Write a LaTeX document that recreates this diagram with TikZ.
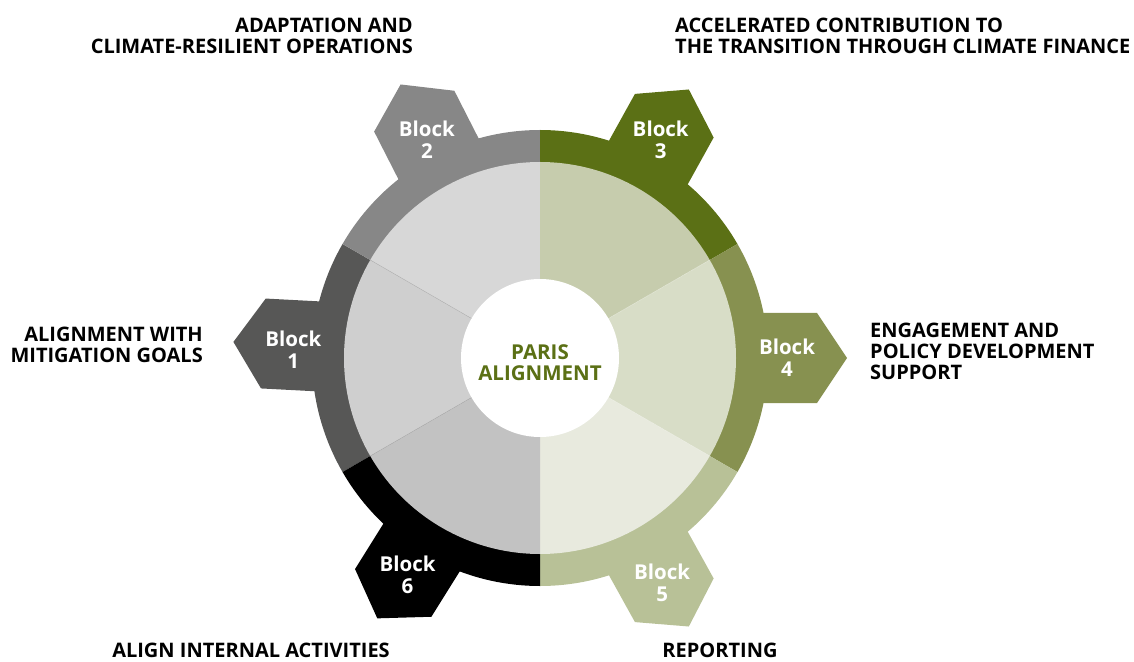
\documentclass[tikz,border=0pt]{standalone}
\usepackage{fontspec}
\setmainfont{Open Sans}
\definecolor{ringone}{HTML}{575756}
\definecolor{ringtwo}{HTML}{878787}
\definecolor{ringthree}{HTML}{5B7015}
\definecolor{ringfour}{HTML}{879150}
\definecolor{ringfive}{HTML}{B8C197}
\definecolor{ringsix}{HTML}{000000}
\definecolor{sliceone}{HTML}{CFCFCF}
\definecolor{slicetwo}{HTML}{D7D7D7}
\definecolor{slicethree}{HTML}{C6CCAD}
\definecolor{slicefour}{HTML}{D8DDC7}
\definecolor{slicefive}{HTML}{E8EADE}
\definecolor{slicesix}{HTML}{C2C2C2}

\begin{document}
\begin{tikzpicture}[x=1pt,y=1pt,line join=round,
    blocklabel/.style={text=white,align=center,inner sep=0pt,font=\bfseries\fontsize{20.5}{22}\selectfont},
    heading/.style={inner sep=0pt,font=\bfseries\fontsize{20}{21}\selectfont},
    sliceline/.style={line width=0.4pt}]
      \useasboundingbox (-540,-303) rectangle (594,358);

      % Add tabs
      \begin{scope}[rotate=177]
        \fill[ringone] (307,0) -- (277,45) -- (217,45) -- (187,0) -- (217,-45) -- (277,-45) -- cycle;
      \end{scope}
      \begin{scope}[rotate=117]
        \fill[ringtwo] (307,0) -- (277,45) -- (217,45) -- (187,0) -- (217,-45) -- (277,-45) -- cycle;
      \end{scope}
      \begin{scope}[rotate=61]
        \fill[ringthree] (307,0) -- (277,45) -- (217,45) -- (187,0) -- (217,-45) -- (277,-45) -- cycle;
      \end{scope}
      \begin{scope}[rotate=0]
        \fill[ringfour] (307,0) -- (277,45) -- (217,45) -- (187,0) -- (217,-45) -- (277,-45) -- cycle;
      \end{scope}
      \begin{scope}[rotate=-61]
        \fill[ringfive] (307,0) -- (277,45) -- (217,45) -- (187,0) -- (217,-45) -- (277,-45) -- cycle;
      \end{scope}
      \begin{scope}[rotate=-122]
        \fill[ringsix] (307,0) -- (277,45) -- (217,45) -- (187,0) -- (217,-45) -- (277,-45) -- cycle;
      \end{scope}

      % Add outer ring
      \fill[ringone] (0,0) -- (150:228pt) arc (150:210:228pt) -- cycle;
      \fill[ringtwo] (0,0) -- (90:228pt) arc (90:150:228pt) -- cycle;
      \fill[ringthree] (0,0) -- (30:228pt) arc (30:90:228pt) -- cycle;
      \fill[ringfour] (0,0) -- (-30:228pt) arc (-30:30:228pt) -- cycle;
      \fill[ringfive] (0,0) -- (-90:228pt) arc (-90:-30:228pt) -- cycle;
      \fill[ringsix] (0,0) -- (210:228pt) arc (210:270:228pt) -- cycle;

      % Add inner slices
      \fill[sliceone] (0,0) -- (150:196pt) arc (150:210:196pt) -- cycle;
      \fill[slicetwo] (0,0) -- (90:196pt) arc (90:150:196pt) -- cycle;
      \fill[slicethree] (0,0) -- (30:196pt) arc (30:90:196pt) -- cycle;
      \fill[slicefour] (0,0) -- (-30:196pt) arc (-30:30:196pt) -- cycle;
      \fill[slicefive] (0,0) -- (-90:196pt) arc (-90:-30:196pt) -- cycle;
      \fill[slicesix] (0,0) -- (210:196pt) arc (210:270:196pt) -- cycle;
      \draw[sliceline,black!30] (0,0) -- (150:196pt);
      \draw[sliceline,black!30] (0,0) -- (210:196pt);
      \draw[sliceline,white!60!slicethree] (0,0) -- (30:196pt);
      \draw[sliceline,white!60!slicefour] (0,0) -- (-30:196pt);

      % Centre
      \fill[white] (0,0) circle (79pt);
      \node[inner sep=0pt,align=center,text=ringthree,font=\bfseries\fontsize{20.5}{21}\selectfont] (paris) at (0,-5) {PARIS\\ALIGNMENT};

      % Block labels
      \node[blocklabel,yshift=-5pt] (b1) at (177:247) {Block\\1};
      \node[blocklabel,yshift=-4pt] (b2) at (117:249) {Block\\2};
      \node[blocklabel] (b3) at (61:249) {Block\\3};
      \node[blocklabel] (b4) at (0:247) {Block\\4};
      \node[blocklabel,yshift=-4pt] (b5) at (-61:252) {Block\\5};
      \node[blocklabel,yshift=-5pt] (b6) at (-122:250) {Block\\6};

      % Headings
      \node[heading,align=right,anchor=north east] (adapt) at (-127,340) {ADAPTATION AND\\CLIMATE-RESILIENT OPERATIONS};
      \node[heading,align=left,anchor=north west] (finance) at (135,340) {ACCELERATED CONTRIBUTION TO\\THE TRANSITION THROUGH CLIMATE FINANCE};
      \node[heading,align=right,anchor=north east] (mitig) at (-337,31) {ALIGNMENT WITH\\MITIGATION GOALS};
      \node[heading,align=left,anchor=north west] (engage) at (330,35) {ENGAGEMENT AND\\POLICY DEVELOPMENT\\SUPPORT};
      \node[heading,anchor=north] (internal) at (-289,-285) {ALIGN INTERNAL ACTIVITIES};
      \node[heading,anchor=north] (report) at (180,-285) {REPORTING};
    \end{tikzpicture}
\end{document}
